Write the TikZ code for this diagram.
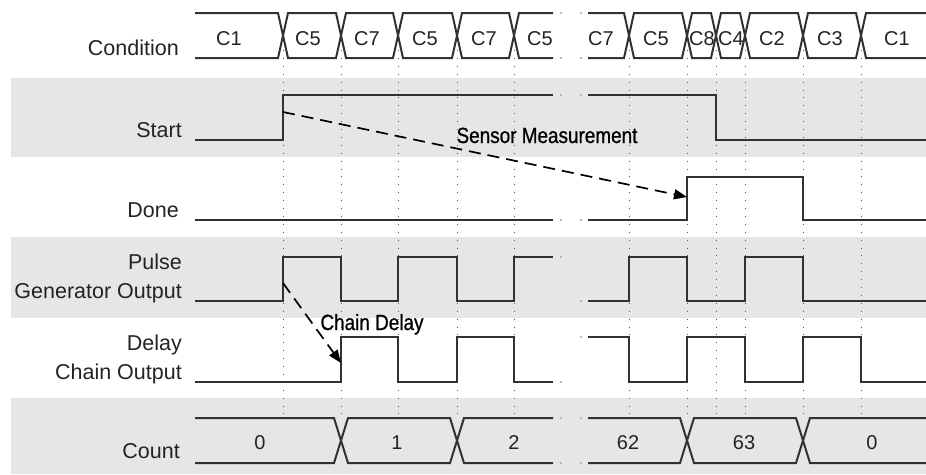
\documentclass[tikz,border=0pt]{standalone}
\usepackage{fontspec}
\setmainfont{Liberation Sans}
\newfontfamily\notefont[FakeStretch=0.86,FakeBold=0.8]{Liberation Sans}
\usetikzlibrary{arrows.meta}
\definecolor{band}{RGB}{230,230,230}
\definecolor{wire}{RGB}{50,50,50}
\definecolor{txt}{RGB}{35,35,35}

\begin{document}
\begin{tikzpicture}[x=1pt,y=-1pt,
    wave/.style={wire,line width=2pt},
    tick/.style={black!65,line width=0.9pt,dash pattern=on 0.9pt off 7pt},
    gapdot/.style={fill=black!35,draw=none},
    sig/.style={font=\fontsize{21.5}{29}\selectfont,text=txt,inner sep=0pt},
    val/.style={font=\fontsize{20}{24}\selectfont,text=txt,inner sep=0pt,anchor=base},
    note/.style={black,line width=1.7pt,dash pattern=on 12pt off 7pt,-{Triangle[length=13pt,width=10pt]}},
    notetxt/.style={font=\notefont\fontsize{22}{26}\selectfont,inner sep=0pt,anchor=base}]
  \useasboundingbox (0,0) rectangle (926,474);
  % shaded rows
  \fill[band] (11,78) rectangle (926,157);
  \fill[band] (11,237) rectangle (926,318);
  \fill[band] (11,398) rectangle (926,474);
  % time marks
  \foreach \t in {283,341,398,457,514,629,687,716,745,803,861}
    \draw[tick] (\t,50) -- (\t,418);

  % signal names
  \node[sig,anchor=base east] (lcond) at (179,55.5) {Condition};
  \node[sig,anchor=base east] (lstart) at (182,137) {Start};
  \node[sig,anchor=base east] (ldone) at (179,217) {Done};
  \node[sig,anchor=east,align=right] (lpulse) at (182,278) {Pulse\\Generator Output};
  \node[sig,anchor=east,align=right] (ldelay) at (182,359.5) {Delay\\Chain Output};
  \node[sig,anchor=base east] (lcount) at (180,458) {Count};

  % condition bus
  \draw[wave] (195,13) -- (278,13) -- (283,35.5) -- (278,58) -- (195,58);
  \foreach \a/\b in {283/341,341/398,398/457,457/514,629/687,687/716,716/745,745/803,803/861}
    \draw[wave] (\a,35.5) -- (\a+5,13) -- (\b-5,13) -- (\b,35.5) -- (\b-5,58) -- (\a+5,58) -- cycle;
  \draw[wave] (553,13) -- (519,13) -- (514,35.5) -- (519,58) -- (553,58);
  \draw[wave] (588,13) -- (624,13) -- (629,35.5) -- (624,58) -- (588,58);
  \draw[wave] (926,13) -- (866,13) -- (861,35.5) -- (866,58) -- (926,58);
  \foreach \x/\v [count=\i] in {229/C1,308/C5,367/C7,425/C5,484/C7,540/C5,601/C7,
      656/C5,702/C8,731/C4,772/C2,830/C3,897/C1}
    \node[val] (c\i) at (\x,45.5) {\v};

  % start / done
  \draw[wave] (195,140) -- (283,140) -- (283,95) -- (553,95);
  \draw[wave] (588,95) -- (716,95) -- (716,140) -- (926,140);
  \draw[wave] (195,220) -- (553,220);
  \draw[wave] (588,220) -- (687,220) -- (687,177) -- (803,177) -- (803,220) -- (926,220);

  % pulse generator / delay chain
  \draw[wave] (195,301) -- (283,301) -- (283,257) -- (341,257) -- (341,301) -- (398,301)
    -- (398,257) -- (457,257) -- (457,301) -- (514,301) -- (514,257) -- (553,257);
  \draw[wave] (588,301) -- (629,301) -- (629,257) -- (687,257) -- (687,301) -- (745,301)
    -- (745,257) -- (803,257) -- (803,301) -- (926,301);
  \draw[wave] (195,382) -- (341,382) -- (341,337) -- (398,337) -- (398,382) -- (457,382)
    -- (457,337) -- (514,337) -- (514,382) -- (553,382);
  \draw[wave] (588,337) -- (629,337) -- (629,382) -- (687,382) -- (687,337) -- (745,337)
    -- (745,382) -- (803,382) -- (803,337) -- (861,337) -- (861,382) -- (926,382);

  % count bus
  \draw[wave] (195,418) -- (334,418) -- (341,440.5) -- (334,463) -- (195,463);
  \foreach \a/\b in {341/457,687/803}
    \draw[wave] (\a,440.5) -- (\a+7,418) -- (\b-7,418) -- (\b,440.5) -- (\b-7,463) -- (\a+7,463) -- cycle;
  \draw[wave] (553,418) -- (464,418) -- (457,440.5) -- (464,463) -- (553,463);
  \draw[wave] (588,418) -- (680,418) -- (687,440.5) -- (680,463) -- (588,463);
  \draw[wave] (926,418) -- (810,418) -- (803,440.5) -- (810,463) -- (926,463);
  \foreach \x/\v [count=\i] in {260/0,397/1,514/2,628/62,744/63,872/0}
    \node[val] (n\i) at (\x,449) {\v};

  % break in the time axis
  \foreach \y in {13,58,95,220,257,382,418,463}
    \fill[gapdot] (561,\y) circle (1.2);
  \foreach \y in {13,58,95,220,301,337,418,463}
    \fill[gapdot] (581,\y) circle (1.2);

  % causes
  \coordinate (startup) at (283,112);
  \coordinate (doneup) at (687,197);
  \coordinate (pulseup) at (283,283);
  \coordinate (delayup) at (341,363);
  \draw[note] (startup) -- (doneup);
  \draw[note] (pulseup) -- (delayup);
  \node[notetxt] (sensor) at (547,143) {Sensor Measurement};
  \node[notetxt] (chain) at (372,330) {Chain Delay};
\end{tikzpicture}
\end{document}
